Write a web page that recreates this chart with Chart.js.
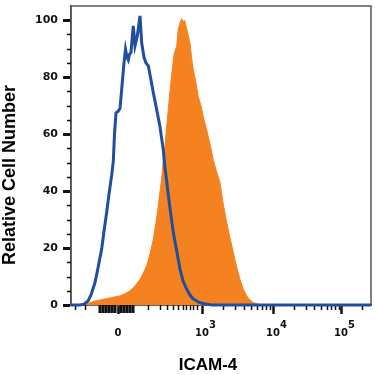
<!DOCTYPE html>
<html>
<head>
<title>ICAM-4 histogram</title>
<script src="https://cdn.jsdelivr.net/npm/chart.js@4.4.0/dist/chart.umd.min.js"></script>
<style>body{margin:0;background:#fff}</style>
</head>
<body>
<canvas id="myChart" width="375" height="375"></canvas>
<script>
    // x values are display channels of the biexponential axis (0..300)
    // isotype control, blue outline
    var isoX = [0, 9, 13, 17, 20, 24, 27, 30.7, 33, 35.7, 38, 40.7, 42.3, 43.5, 45, 47, 49, 51, 53, 54.5, 56, 57.3, 58.5, 60, 61, 62.3, 64, 66.3, 69, 70.7, 73, 75, 77.3, 80, 82.3, 85.7, 89, 92.3, 94, 95.5, 97, 99, 102.3, 105.7, 109, 112, 115.7, 119, 122, 125.7, 129, 135.7, 141, 300];
    var isoY = [0, 0, 0.3, 1.4, 3.5, 7.9, 13, 19.7, 26, 32.6, 39, 45.6, 50.5, 60, 67.5, 68, 69, 77, 85, 89.8, 87, 86, 88, 88.7, 93, 98, 91, 94.5, 101.5, 92, 87, 85, 84, 79, 74.5, 68.6, 62.6, 54.4, 48, 44, 39.5, 34, 25.5, 19, 12.6, 8.5, 5.5, 3.5, 2.2, 1.4, 0.8, 0.3, 0, 0];

    // ICAM-4 stained cells, orange fill
    var icamX = [0, 14, 15, 19, 24, 32, 39, 49, 54, 59, 64, 69, 72, 75.7, 79, 82.3, 85, 87.3, 89, 90.7, 92.3, 94, 96, 99, 101, 103, 105.7, 107.3, 109, 110.7, 112, 113.5, 115.7, 117, 119, 120.5, 122.3, 125, 127.3, 130, 132.3, 135, 137.3, 140, 142.3, 145, 149, 152, 155.7, 159, 162.3, 165.5, 169, 172, 175.7, 179, 182.3, 187.3, 191, 300];
    var icamY = [0, 0, 0.3, 0.8, 1.4, 2, 2.5, 3.2, 4, 5, 6.7, 9, 11, 13.8, 18, 23, 29, 35, 40, 44.4, 51, 56, 64, 75, 82, 88, 91, 97, 99, 100.6, 99.5, 100, 97, 95, 92, 87, 82.7, 78, 73, 70, 66, 62.5, 59, 55, 51, 47.5, 43, 36, 29, 23.5, 18.5, 13.5, 9, 5.8, 3.2, 1.8, 0.8, 0.3, 0, 0];

    // axis ticks
    var xTickPos = [47, 131, 202, 270];
    var xTickBase = ['0', '10', '10', '10'];
    var xTickExp = ['', '3', '4', '5'];
    var xMinor = [4, 14, 77, 89, 96, 102, 107, 112, 115, 119, 122, 126, 151.7, 164.4, 173.3, 180.3, 186, 190.8, 195, 198.7, 222.5, 234.5, 243, 249.8, 255.5, 260, 264, 267.5, 291];
    var xDense = [29, 32, 35, 38, 41, 44, 50, 53, 56, 59, 62];
    var yTicks = [0, 20, 40, 60, 80, 100];
    var yMinor = [5, 10, 15, 25, 30, 35, 45, 50, 55, 65, 70, 75, 85, 90, 95];

    function pts(xs, ys) {
        return xs.map(function (x, i) { return { x: x, y: ys[i] }; });
    }

    // frame, minor ticks and axis titles
    var extras = {
        id: 'extras',
        beforeDatasetsDraw: function (chart) {
            var ctx = chart.ctx, a = chart.chartArea;
            var xs = chart.scales.x, ys = chart.scales.y;
            ctx.save();
            ctx.strokeStyle = '#555';
            ctx.lineWidth = 1.5;
            ctx.strokeRect(a.left, a.top, a.right - a.left, a.bottom - a.top);
            ctx.strokeStyle = '#111';
            ctx.lineWidth = 1.5;
            xMinor.forEach(function (v) {
                var p = Math.round(xs.getPixelForValue(v)) + 0.5;
                ctx.beginPath(); ctx.moveTo(p, a.bottom); ctx.lineTo(p, a.bottom + 5); ctx.stroke();
            });
            ctx.lineWidth = 3;
            xDense.forEach(function (v) {
                var p = xs.getPixelForValue(v);
                ctx.beginPath(); ctx.moveTo(p, a.bottom); ctx.lineTo(p, a.bottom + 8); ctx.stroke();
            });
            ctx.lineWidth = 1.5;
            yMinor.forEach(function (v) {
                var p = Math.round(ys.getPixelForValue(v)) + 0.5;
                ctx.beginPath(); ctx.moveTo(a.left - 4, p); ctx.lineTo(a.left, p); ctx.stroke();
            });
            ctx.restore();
        },
        afterDraw: function (chart) {
            var ctx = chart.ctx;
            ctx.save();
            ctx.fillStyle = '#000';
            ctx.textAlign = 'center';
            ctx.textBaseline = 'middle';
            ctx.font = 'bold 17px "Liberation Sans"';
            ctx.fillText('ICAM-4', 208, 365);
            ctx.translate(10, 175);
            ctx.rotate(-Math.PI / 2);
            ctx.font = 'bold 18px "Liberation Sans"';
            ctx.fillText('Relative Cell Number', 0, 0);
            ctx.restore();
        }
    };

    var ctx = document.getElementById('myChart').getContext('2d');
    var chart = new Chart(ctx, {
        type: 'line',
        data: {
            datasets: [{
                label: 'Isotype',
                data: pts(isoX, isoY),
                borderColor: '#1f4f9e',
                borderWidth: 3,
                fill: false,
                pointRadius: 0,
                clip: false,
                order: 0
            }, {
                label: 'ICAM-4',
                data: pts(icamX, icamY),
                borderColor: '#f58220',
                backgroundColor: '#f58220',
                borderWidth: 1,
                fill: 'origin',
                pointRadius: 0,
                order: 1
            }]
        },
        options: {
            responsive: false,
            animation: false,
            layout: { padding: { top: 6, right: 4, left: 0, bottom: 0 } },
            plugins: { legend: { display: false }, tooltip: { enabled: false } },
            scales: {
                x: {
                    type: 'linear',
                    min: 0,
                    max: 300,
                    afterBuildTicks: function (s) {
                        s.ticks = xTickPos.map(function (v) { return { value: v }; });
                    },
                    afterFit: function (s) {
                        s.height = 70;
                        s.paddingLeft = 0; s.paddingRight = 0;
                    },
                    grid: { drawOnChartArea: false, tickLength: 9, tickWidth: 2.5, tickColor: '#111' },
                    border: { color: '#333', width: 1.5 },
                    ticks: {
                        autoSkip: false,
                        maxRotation: 0,
                        padding: 7,
                        color: '#111',
                        font: { family: 'DejaVu Sans', weight: 'bold', size: 10, lineHeight: 0.8 },
                        callback: function (value, i) {
                            var e = xTickExp[i];
                            return e ? ['      ' + e, xTickBase[i]] : ['', xTickBase[i]];
                        }
                    }
                },
                y: {
                    min: 0,
                    max: 105,
                    afterBuildTicks: function (s) {
                        s.ticks = yTicks.map(function (v) { return { value: v }; });
                    },
                    afterFit: function (s) {
                        s.width = 71;
                        s.paddingTop = 0; s.paddingBottom = 0;
                    },
                    grid: { drawOnChartArea: false, tickLength: 8, tickWidth: 3, tickColor: '#111' },
                    border: { color: '#333', width: 1.5 },
                    ticks: {
                        padding: 5,
                        color: '#111',
                        font: { family: 'DejaVu Sans', weight: 'bold', size: 11 }
                    }
                }
            }
        },
        plugins: [extras]
    });
</script>
</body>
</html>
